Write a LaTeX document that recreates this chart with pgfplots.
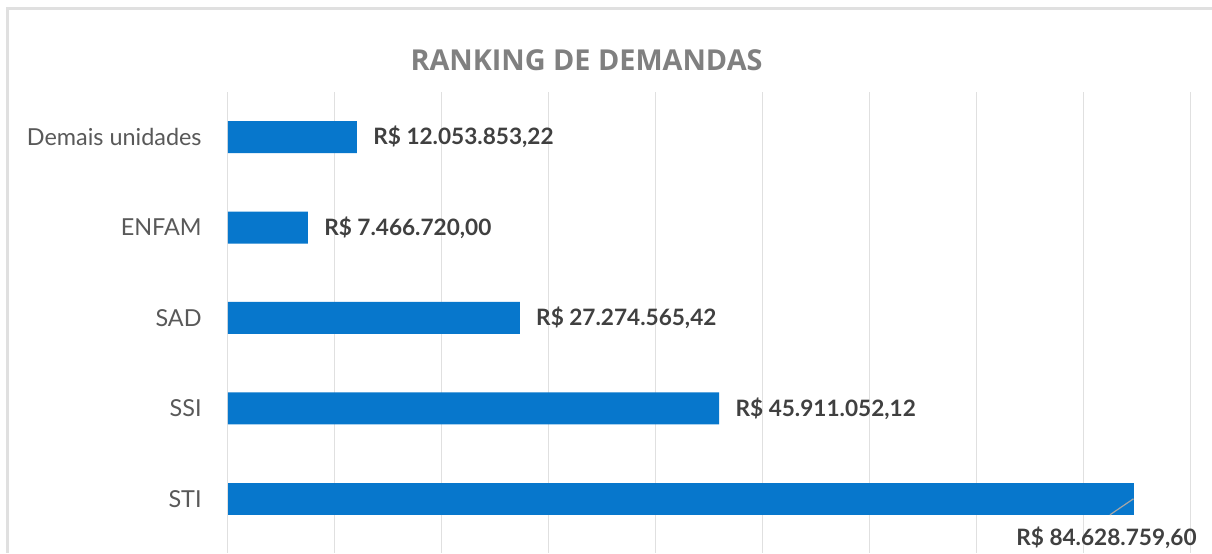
\documentclass[border=0pt]{standalone}
\usepackage{fontspec}
\setmainfont{Lato}
\newfontfamily\titlefont{Open Sans}
\usepackage{pgfplots}
\pgfplotsset{compat=1.18}
\usepackage{pgfplotstable}
\definecolor{barblue}{HTML}{0777CC}
\definecolor{gridgray}{HTML}{E0E0E0}
\definecolor{catgray}{HTML}{595959}
\definecolor{lblgray}{HTML}{404040}
\definecolor{titlegray}{HTML}{808080}
\definecolor{bordergray}{HTML}{E0E0E0}

\pgfplotstableread[col sep=comma]{
y,v,lbl
4,12053853.22,{R\$ 12.053.853,22}
3,7466720.00,{R\$ 7.466.720,00}
2,27274565.42,{R\$ 27.274.565,42}
1,45911052.12,{R\$ 45.911.052,12}
}\mainrows
\pgfplotstableread[col sep=comma]{
y,v,lbl
0,84628759.60,{R\$ 84.628.759,60}
}\stirow

\begin{document}
\begin{tikzpicture}
\useasboundingbox (0,0) rectangle (606pt,276.5pt);
\fill[white] (0,0) rectangle (606pt,276.5pt);
\draw[bordergray, line width=1.5pt] (3.5pt,0) -- (3.5pt,272pt) -- (606pt,272pt);
\node[font=\titlefont\bfseries\fontsize{14.4}{17}\selectfont, text=titlegray] at (293.25pt,246.5pt) {RANKING DE DEMANDAS};
\begin{axis}[
  at={(114pt,0pt)}, anchor=south west,
  scale only axis,
  width=481.5pt, height=230.5pt,
  xmin=0, xmax=90000000,
  ymin=-0.6, ymax=4.5,
  xbar, bar width=16pt, bar shift=0pt,
  xtick={0,10000000,20000000,30000000,40000000,50000000,60000000,70000000,80000000,90000000},
  xticklabels={}, scaled x ticks=false,
  xmajorgrids, grid style={gridgray, line width=0.5pt},
  ytick={0,1,2,3,4},
  yticklabels={STI,SSI,SAD,ENFAM,Demais unidades},
  yticklabel style={font=\fontsize{11.7}{14}\selectfont, text=catgray, inner sep=0pt, xshift=-13pt},
  major tick length=0pt,
  axis line style={draw=none},
  clip=false,
  point meta=explicit symbolic,
]
\addplot[fill=barblue, draw=none,
  nodes near coords,
  every node near coord/.append style={anchor=west, inner sep=0pt, xshift=8pt,
    font=\bfseries\fontsize{11.3}{13}\selectfont, text=lblgray}]
  table[x=v, y=y, meta=lbl] {\mainrows};
\addplot[fill=barblue, draw=none,
  nodes near coords,
  every node near coord/.append style={anchor=center, inner sep=0pt, xshift=-13.5pt, yshift=-19.5pt,
    font=\bfseries\fontsize{11.3}{13}\selectfont, text=lblgray}]
  table[x=v, y=y, meta=lbl] {\stirow};
\draw[gray!70, line width=0.6pt] (axis cs:84628759.6,0) -- (axis cs:82430000,-0.177);
\end{axis}
\end{tikzpicture}
\end{document}
